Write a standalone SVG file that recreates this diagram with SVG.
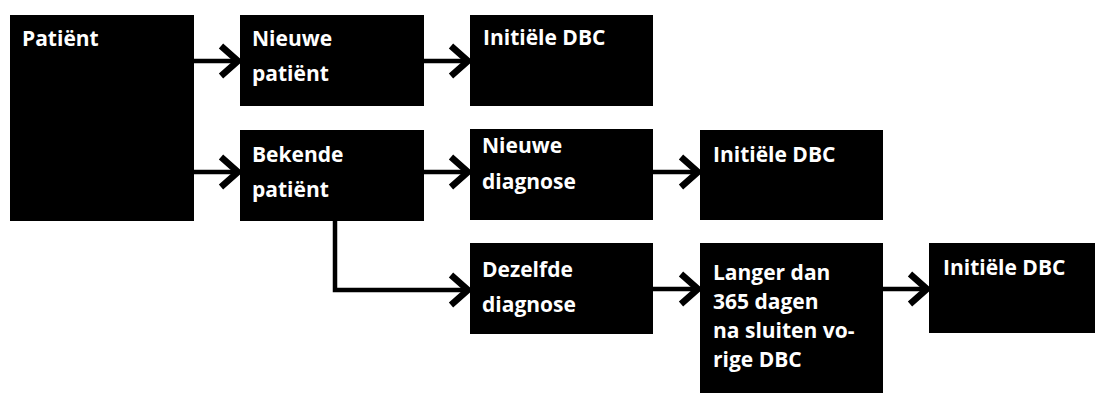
<svg xmlns="http://www.w3.org/2000/svg" width="1096" height="395" viewBox="0 0 1096 395">
<defs>
<style>
.box{fill:#000}
.lbl{fill:#fff;font-family:"Open Sans","Noto Sans","DejaVu Sans",sans-serif;font-weight:700;font-size:21px}
.con{fill:none;stroke:#000;stroke-width:4.5}
</style>
<marker id="chev" markerUnits="userSpaceOnUse" markerWidth="30" markerHeight="40" viewBox="-25 -20 30 40" refX="0" refY="0" orient="auto" overflow="visible">
<path d="M-17,-15 L0,0 L-17,15" fill="none" stroke="#000" stroke-width="6.5" stroke-linejoin="miter"/>
</marker>
</defs>
<rect width="1096" height="395" fill="#fff"/>
<g id="connectors">
<path class="con" d="M194,61 H238" marker-end="url(#chev)"/>
<path class="con" d="M194,172 H238" marker-end="url(#chev)"/>
<path class="con" d="M424,61 H468" marker-end="url(#chev)"/>
<path class="con" d="M424,172 H468" marker-end="url(#chev)"/>
<path class="con" d="M653,172 H698" marker-end="url(#chev)"/>
<path class="con" d="M335,220 V290 H468" marker-end="url(#chev)"/>
<path class="con" d="M653,289 H698" marker-end="url(#chev)"/>
<path class="con" d="M882,289 H927" marker-end="url(#chev)"/>
</g>
<g id="patient"><rect class="box" x="10" y="15" width="184" height="206"/><text class="lbl" x="22" y="46">Patiënt</text></g>
<g id="nieuwe-patient"><rect class="box" x="240" y="15" width="184" height="91"/><text class="lbl" x="252" y="46">Nieuwe</text><text class="lbl" x="252" y="81">patiënt</text></g>
<g id="initiele-dbc-1"><rect class="box" x="470" y="15" width="183" height="91"/><text class="lbl" x="483" y="45">Initiële DBC</text></g>
<g id="bekende-patient"><rect class="box" x="240" y="130" width="184" height="91"/><text class="lbl" x="252" y="162">Bekende</text><text class="lbl" x="252" y="197">patiënt</text></g>
<g id="nieuwe-diagnose"><rect class="box" x="470" y="129" width="183" height="91"/><text class="lbl" x="482" y="153">Nieuwe</text><text class="lbl" x="482" y="189">diagnose</text></g>
<g id="initiele-dbc-2"><rect class="box" x="700" y="130" width="183" height="90"/><text class="lbl" x="713" y="162">Initiële DBC</text></g>
<g id="dezelfde-diagnose"><rect class="box" x="470" y="243" width="183" height="91"/><text class="lbl" x="482" y="277">Dezelfde</text><text class="lbl" x="482" y="312">diagnose</text></g>
<g id="langer-dan"><rect class="box" x="700" y="243" width="183" height="150"/><text class="lbl" x="713" y="280">Langer dan</text><text class="lbl" x="713" y="309">365 dagen</text><text class="lbl" x="713" y="338">na sluiten vo-</text><text class="lbl" x="713" y="367">rige DBC</text></g>
<g id="initiele-dbc-3"><rect class="box" x="929" y="243" width="166" height="90"/><text class="lbl" x="943" y="275">Initiële DBC</text></g>
</svg>
